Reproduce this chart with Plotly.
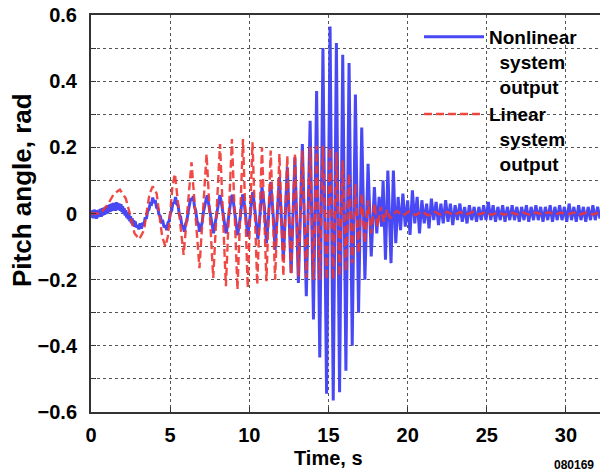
import plotly.graph_objects as go

# ---------------- data ----------------
# Linear system output (red dashed): (time s, pitch rad) at turning points of the sweep
red_pts = [(0.0, 0.0), (0.6, 0.0), (1.1, 0.03), (1.45, 0.06), (1.83, 0.072), (2.2, 0.045),
           (2.45, 0.0), (2.75, -0.06), (3.05, -0.078), (3.35, -0.05), (3.5, 0.0), (3.7, 0.06),
           (3.9, 0.082), (4.15, 0.06), (4.3, 0.0), (4.5, -0.07), (4.7, -0.10), (4.85, -0.07),
           (5.0, 0.0), (5.15, 0.085), (5.3, 0.12), (5.85, -0.125), (6.35, 0.155), (6.85, -0.165),
           (7.3, 0.18), (7.72, -0.195), (8.15, 0.21), (8.52, -0.22), (8.9, 0.225), (9.25, -0.23),
           (9.6, 0.225), (9.9, -0.225), (10.2, 0.215), (10.5, -0.215), (10.8, 0.20),
           (11.08, -0.205), (11.35, 0.19), (11.63, -0.20), (11.9, 0.18), (12.15, -0.19),
           (12.4, 0.175), (12.64, -0.185), (12.88, 0.18), (13.1, -0.19), (13.35, 0.19),
           (13.6, -0.195), (13.84, 0.20), (14.05, -0.20), (14.25, 0.205), (14.45, -0.20),
           (14.65, 0.205), (14.88, -0.20), (15.1, 0.20), (15.3, -0.20), (15.5, 0.185),
           (15.7, -0.19), (15.9, 0.16), (16.1, -0.175), (16.3, 0.12), (16.5, -0.15),
           (16.7, 0.09), (16.9, -0.12), (17.1, 0.06), (17.3, -0.09), (17.5, 0.04),
           (17.7, -0.06), (17.9, 0.03), (18.1, -0.04), (18.3, 0.02), (18.5, -0.025),
           (18.7, 0.012), (18.9, -0.015)]
# residual of the linear output after the sweep (sampled every 0.4 s from 19.3 s)
red_tail_y = [0.008, -0.006, 0.007, -0.005, 0.006, -0.006, 0.005, -0.004, 0.005,
              -0.005, 0.004, -0.004, 0.005, -0.003, 0.004, -0.004, 0.003, -0.004,
              0.004, -0.003, 0.003, -0.004, 0.003, -0.003, 0.004, -0.003, 0.003,
              -0.003, 0.003, -0.003, 0.003, -0.003, 0.003, -0.002]

# Nonlinear system output (blue solid)
# noisy start, sampled every 0.05 s from 0 s
blue_start_y = [0.01, -0.012, 0.008, -0.015, 0.012, -0.01, 0.006, -0.016, 0.01, -0.012,
                0.012, -0.008, 0.014, -0.01, 0.016, -0.006, 0.018, -0.004, 0.02, -0.002,
                0.022, 0.0, 0.025, 0.004, 0.028, 0.006, 0.03, 0.008, 0.032, 0.01,
                0.03, 0.008, 0.034, 0.01, 0.032, 0.012, 0.03, 0.008, 0.028, 0.004,
                0.022, 0.0, 0.016, -0.006, 0.01, -0.012, 0.004, -0.018, -0.002, -0.024,
                -0.008, -0.03, -0.014, -0.036, -0.02, -0.04, -0.024, -0.042]
# (time s, pitch rad) through the sweep and its decay
blue_pts = [(2.95, -0.035), (3.02, -0.048), (3.1, -0.03), (3.18, -0.046), (3.26, -0.028),
            (3.34, -0.036), (3.42, -0.012), (3.5, -0.016), (3.58, 0.008), (3.66, 0.012),
            (3.74, 0.03), (3.82, 0.028), (3.9, 0.048), (3.98, 0.032), (4.06, 0.04),
            (4.14, 0.018), (4.22, 0.016), (4.3, -0.004), (4.38, -0.008), (4.46, -0.026),
            (4.54, -0.024), (4.62, -0.042), (4.7, -0.036), (4.78, -0.05), (4.86, -0.028),
            (4.94, -0.022), (5.02, 0.002), (5.1, 0.01), (5.18, 0.034), (5.26, 0.03),
            (5.34, 0.05), (5.42, 0.028), (5.5, 0.024), (5.58, -0.004), (5.66, -0.01),
            (5.74, -0.036), (5.82, -0.04), (5.9, -0.055), (5.98, -0.03), (6.06, -0.022),
            (6.14, 0.006), (6.22, 0.022), (6.3, 0.046), (6.38, 0.04), (6.46, 0.052),
            (6.54, 0.02), (6.62, 0.008), (6.7, -0.024), (6.78, -0.03), (6.86, -0.055),
            (6.94, -0.036), (7.02, -0.028), (7.1, 0.004), (7.18, 0.028), (7.26, 0.04),
            (7.34, 0.055), (7.42, 0.03), (7.5, 0.01), (7.58, -0.018), (7.66, -0.042),
            (7.74, -0.06), (7.82, -0.036), (7.9, -0.016), (7.98, 0.014), (8.06, 0.03),
            (8.14, 0.056), (8.22, 0.038), (8.3, 0.018), (8.38, -0.012), (8.46, -0.04),
            (8.54, -0.06), (8.62, -0.036), (8.7, -0.01), (8.78, 0.02), (8.86, 0.05),
            (8.94, 0.056), (9.02, 0.026), (9.1, -0.006), (9.18, -0.04), (9.26, -0.066),
            (9.34, -0.04), (9.42, -0.016), (9.5, 0.024), (9.58, 0.058), (9.66, 0.04),
            (9.74, 0.01), (9.82, -0.03), (9.9, -0.07), (9.98, -0.044), (10.06, -0.004),
            (10.14, 0.04), (10.22, 0.065), (10.3, 0.034), (10.38, -0.01), (10.46, -0.06),
            (10.54, -0.078), (10.62, -0.04), (10.7, 0.02), (10.8, 0.08), (10.95, 0.02),
            (11.08, -0.09), (11.2, -0.02), (11.35, 0.095), (11.5, 0.0), (11.63, -0.11),
            (11.9, 0.11), (12.15, -0.14), (12.4, 0.14), (12.64, -0.18), (12.88, 0.17),
            (13.1, -0.21), (13.35, 0.21), (13.6, -0.25), (13.84, 0.28), (14.05, -0.32),
            (14.25, 0.37), (14.45, -0.435), (14.65, 0.50), (14.88, -0.545), (15.1, 0.565),
            (15.3, -0.565), (15.5, 0.515), (15.7, -0.54), (15.9, 0.48), (16.1, -0.475),
            (16.3, 0.455), (16.5, -0.40), (16.7, 0.36), (16.9, -0.30), (17.1, 0.26),
            (17.3, -0.20), (17.5, 0.15), (17.7, -0.13), (17.9, 0.08), (18.05, -0.06),
            (18.2, 0.05), (18.35, -0.04), (18.45, 0.10), (18.6, -0.14), (18.75, 0.13),
            (18.95, -0.15), (19.1, 0.13), (19.25, -0.09)]
# decaying residual, sampled every 0.15 s from 19.4 s
blue_tail_y = [0.05, -0.05, 0.06, -0.04, 0.04, -0.065, 0.07, -0.03, 0.05, -0.06, 0.04, -0.03,
               0.03, -0.045, 0.045, -0.02, 0.035, -0.035, 0.03, -0.03, 0.04, -0.025, 0.03,
               -0.035, 0.025, -0.02, 0.03, -0.025, 0.02, -0.03, 0.025, -0.02, 0.02, -0.025,
               0.02, -0.02, 0.025, -0.02, 0.035, -0.02, 0.025, -0.025, 0.02, -0.02, 0.025,
               -0.025, 0.02, -0.02, 0.025, -0.02, 0.02, -0.025, 0.02, -0.02, 0.025, -0.025,
               0.02, -0.02, 0.025, -0.02, 0.02, -0.025, 0.02, -0.02, 0.025, -0.025, 0.02,
               -0.02, 0.025, -0.02, 0.02, -0.025, 0.03, -0.02, 0.02, -0.025, 0.025, -0.02,
               0.02, -0.025, 0.02, -0.02, 0.025, -0.02, 0.02, -0.015, 0.02]

x_ticks = [0, 5, 10, 15, 20, 25, 30]
y_ticks = [-0.6, -0.4, -0.2, 0, 0.2, 0.4, 0.6]

# sampling grids for the uniformly sampled segments
blue_start_t = [round(0.05 * i, 3) for i in range(len(blue_start_y))]
blue_tail_t = [round(19.4 + 0.15 * i, 3) for i in range(len(blue_tail_y))]
red_tail_t = [round(19.3 + 0.4 * i, 3) for i in range(len(red_tail_y))]

nl_t = blue_start_t + [p[0] for p in blue_pts] + blue_tail_t
nl_y = blue_start_y + [p[1] for p in blue_pts] + blue_tail_y
li_t = [p[0] for p in red_pts] + red_tail_t
li_y = [p[1] for p in red_pts] + red_tail_y

FONT = "Liberation Sans"
BLUE = "rgb(72,72,245)"
RED = "rgb(240,55,50)"

W, H = 600, 472
L, T, B = 91, 15, 60
PW, PH = W - L, H - T - B


def px(x):
    return (x - L) / PW


def py(y):
    return (H - B - y) / PH


fig = go.Figure()
fig.add_trace(go.Scatter(x=nl_t, y=nl_y, mode="lines",
                         name="Nonlinear<br>\u00a0\u00a0system<br>\u00a0\u00a0output",
                         line=dict(color=BLUE, width=3)))
fig.add_trace(go.Scatter(x=li_t, y=li_y, mode="lines",
                         name="Linear<br>\u00a0\u00a0system<br>\u00a0\u00a0output",
                         line=dict(color=RED, width=2.4, dash="8px,4px"), opacity=0.9))

grid = dict(showgrid=True, gridcolor="#555", gridwidth=1, griddash="dot")
fig.update_layout(
    width=W, height=H,
    margin=dict(l=L, r=0, t=T, b=B, pad=0, autoexpand=False),
    plot_bgcolor="white", paper_bgcolor="white",
    font=dict(family=FONT, size=20, color="black", weight="bold"),
    showlegend=True,
    legend=dict(x=px(419), y=py(18), xanchor="left", yanchor="top",
                bgcolor="rgba(0,0,0,0)", valign="top", itemwidth=60,
                font=dict(family=FONT, size=19, color="black", weight="bold")),
    xaxis=dict(range=[0, 32.15], tickvals=x_ticks, **grid, automargin=False,
               showline=True, linecolor="#333", linewidth=2, mirror=True,
               ticks="inside", ticklen=5, tickcolor="#333", zeroline=False,
               ticklabelstandoff=4,
               tickfont=dict(family=FONT, size=20, color="black", weight="bold")),
    yaxis=dict(range=[-0.6, 0.6], tickvals=y_ticks, **grid, automargin=False,
               minor=dict(dtick=0.1, tick0=0, showgrid=True, gridcolor="#555",
                          gridwidth=1, griddash="dot", ticks="inside", ticklen=5,
                          tickcolor="#333"),
               showline=True, linecolor="#333", linewidth=2, mirror=False,
               ticks="inside", ticklen=5, tickcolor="#333", zeroline=False,
               ticklabelstandoff=8, ticklabeloverflow="allow",
               tickfont=dict(family=FONT, size=20, color="black", weight="bold")),
)
fig.add_annotation(text="Time, s", xref="paper", yref="paper",
                   x=px(328), y=py(458), showarrow=False,
                   xanchor="center", yanchor="middle",
                   font=dict(family=FONT, size=20, color="black", weight="bold"))
fig.add_annotation(text="Pitch angle, rad", xref="paper", yref="paper",
                   x=px(22), y=py(190), showarrow=False,
                   xanchor="center", yanchor="middle", textangle=-90,
                   font=dict(family=FONT, size=26, color="black", weight="bold"))
fig.add_annotation(text="080169", xref="paper", yref="paper",
                   x=px(552), y=py(465), showarrow=False,
                   xanchor="left", yanchor="middle",
                   font=dict(family=FONT, size=12, color="black"))

# remove the browser's default 8 px body margin so the figure sits at the page corner
fig.write_html("out.html", config={"displayModeBar": False},
               post_script="document.body.style.margin='0px';")
